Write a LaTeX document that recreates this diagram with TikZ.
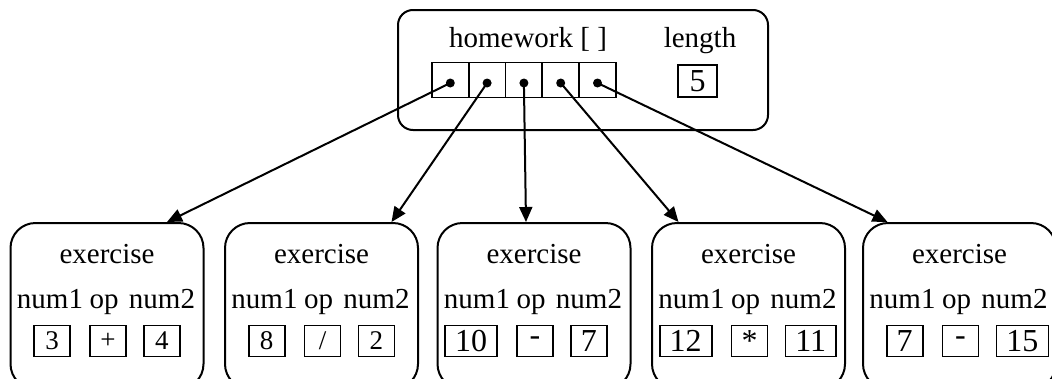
\documentclass[tikz,border=0pt]{standalone}
\usepackage{fontspec}
\setmainfont{Liberation Serif}
\usetikzlibrary{arrows.meta, positioning}

\begin{document}
\begin{tikzpicture}[
		x=1pt, y=-1pt,
		every node/.style={font=\fontsize{29}{32}\selectfont},
		outer/.style={
			rectangle,
			draw,
			line width=2pt,
			rounded corners=15pt,
			minimum width=370pt,
			minimum height=120pt
		},
		exbox/.style={
			rectangle,
			draw,
			line width=2pt,
			rounded corners=25pt,
			minimum width=193pt,
			minimum height=166pt
		},
		cell/.style={
			rectangle,
			draw,
			line width=1.7pt,
			minimum width=36.8pt,
			minimum height=35pt,
			inner sep=0pt
		},
		valbox/.style={
			rectangle,
			draw,
			line width=1.7pt,
			minimum width=36pt,
			minimum height=31pt,
			inner xsep=10pt,
			inner ysep=0pt
		},
		ptr/.style={
			-{Triangle[length=15pt,width=13pt]},
			line width=2pt
		}
		]
		
		\useasboundingbox (0,0) rectangle (1052,378);
		\clip (0,0) rectangle (1052,378);
		
		% Array object
		\node[outer] (hw) at (583,70) {};
		\node[anchor=base] (hwlbl) at (528,47) {homework [ ]};
		\node[anchor=base] (lenlbl) at (700,47) {length};
		\node[cell, minimum width=39pt, minimum height=32pt, font=\fontsize{32}{32}\selectfont] (len) at (697.5,81) {5};
		
		\foreach \i in {1,...,5} {
			\node[cell] (c\i) at ({413.5+36.8*\i},80) {};
			\coordinate (d\i) at ([yshift=-3pt]c\i.center);
		}
		
		% Exercise objects
		\foreach \n/\cx/\a/\o/\b/\fs in {1/107/3/+/4/27, 2/321.5/8/{/}/2/27, 3/534/10/-/7/32, 4/748.5/12/*/11/32, 5/959.5/7/-/15/32} {
			\node[exbox] (ex\n) at (\cx,306) {};
			\node[anchor=base] (t\n) at (\cx,263) {exercise};
			\node[anchor=base] (n1\n) at (\cx-57,308) {num1};
			\node[anchor=base] (op\n) at (\cx-3,308) {op};
			\node[anchor=base] (n2\n) at (\cx+55,308) {num2};
			\node[valbox, font=\fontsize{\fs}{\fs}\selectfont, anchor=east] (a\n) at (\cx-36,341) {\a};
			\node[valbox, font=\fontsize{\fs}{\fs}\selectfont] (o\n) at (\cx+1,341) {\o};
			\node[valbox, font=\fontsize{\fs}{\fs}\selectfont, anchor=west] (b\n) at (\cx+36,341) {\b};
		}
		
		% References
		\foreach \i/\dx in {1/60, 2/70, 3/-8, 4/-70, 5/-72}
			\draw[ptr] (d\i) -- ([xshift=\dx pt]ex\i.north);
		
		\foreach \i in {1,...,5}
			\fill (d\i) circle (4.5pt);
		
	\end{tikzpicture}
\end{document}
